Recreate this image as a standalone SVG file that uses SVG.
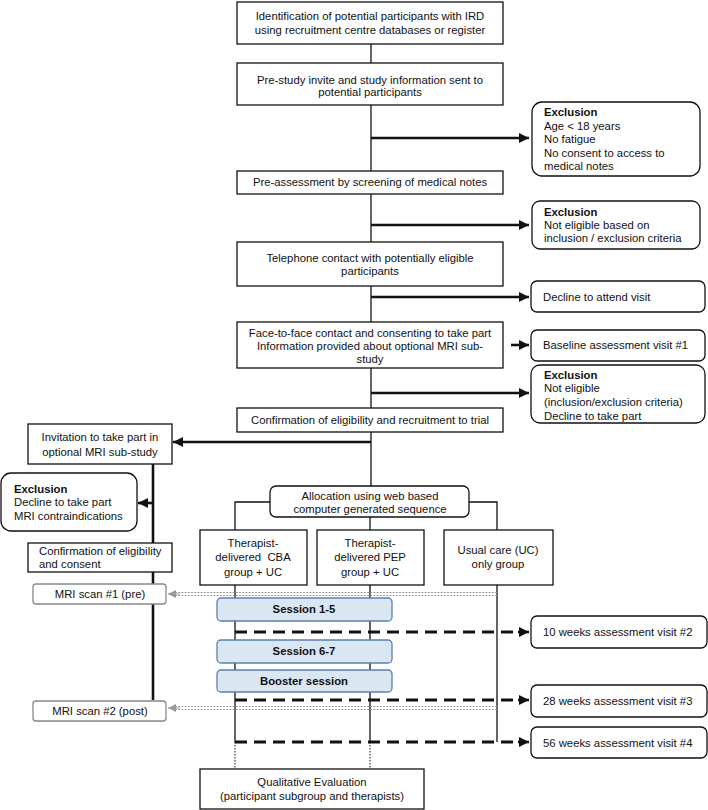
<svg xmlns="http://www.w3.org/2000/svg" width="708" height="810" viewBox="0 0 708 810">
<style>
text{font-family:"Liberation Sans",Arial,sans-serif;font-size:11.3px;fill:#111}
.c{text-anchor:middle}
.b{font-weight:bold}
.box{fill:#fff;stroke:#111;stroke-width:1.3}
.rbox{fill:#fff;stroke:#111;stroke-width:1.3}
.gbox{fill:#fff;stroke:#888;stroke-width:1.3}
.sbox{fill:#dbe6f3;stroke:#5b80b0;stroke-width:1.3}
.thin{stroke:#111;stroke-width:1.3;fill:none}
.thick{stroke:#111;stroke-width:2.6;fill:none}
.dash{stroke:#111;stroke-width:3;stroke-dasharray:12 7;fill:none}
.dot{stroke:#111;stroke-width:1;stroke-dasharray:1.5 1.5;fill:none}
.gdot{stroke:#999;stroke-width:1.2;stroke-dasharray:2 1.2;fill:none}
</style>
<defs>
<marker id="ah" viewBox="0 0 10 10" refX="10" refY="5" markerWidth="4" markerHeight="4" orient="auto" markerUnits="strokeWidth"><path d="M0,0 L10,5 L0,10 z" fill="#111"/></marker>
<marker id="ahg" viewBox="0 0 10 10" refX="10" refY="5" markerWidth="8" markerHeight="8" orient="auto" markerUnits="userSpaceOnUse"><path d="M0,0 L10,5 L0,10 z" fill="#999"/></marker>
</defs>
<g id="connectors">
<line class="thin" x1="371" y1="44" x2="371" y2="486"/>
<line class="thick" x1="371" y1="138" x2="529" y2="138" marker-end="url(#ah)"/>
<line class="thick" x1="371" y1="225" x2="529" y2="225" marker-end="url(#ah)"/>
<line class="thick" x1="371" y1="297" x2="529" y2="297" marker-end="url(#ah)"/>
<line class="thick" x1="511" y1="345" x2="529" y2="345" marker-end="url(#ah)"/>
<line class="thick" x1="371" y1="393" x2="529" y2="393" marker-end="url(#ah)"/>
<line class="thick" x1="371" y1="442" x2="173" y2="442" marker-end="url(#ah)"/>
<line class="thick" x1="153" y1="464" x2="153" y2="700"/>
<line class="thick" x1="153" y1="503" x2="138" y2="503" marker-end="url(#ah)"/>
<polyline class="thin" points="270,502 235,502 235,530"/>
<polyline class="thin" points="469,502 497,502 497,530"/>
<line class="thin" x1="370" y1="517" x2="370" y2="530"/>
<line class="thin" x1="235" y1="585" x2="235" y2="742"/>
<line class="thin" x1="370" y1="585" x2="370" y2="742"/>
<line class="thin" x1="497" y1="585" x2="497" y2="742"/>
<line class="dot" x1="235" y1="742" x2="235" y2="769"/>
<line class="dot" x1="370" y1="742" x2="370" y2="769"/>
<line class="gdot" x1="497" y1="592.5" x2="172" y2="592.5"/>
<line class="gdot" x1="497" y1="595.5" x2="172" y2="595.5"/>
<line x1="180" y1="594" x2="168" y2="594" stroke="#999" stroke-width="1" marker-end="url(#ahg)"/>
<line class="gdot" x1="497" y1="706.5" x2="172" y2="706.5"/>
<line class="gdot" x1="497" y1="709.5" x2="172" y2="709.5"/>
<line x1="180" y1="708" x2="168" y2="708" stroke="#999" stroke-width="1" marker-end="url(#ahg)"/>
<line class="dash" x1="235" y1="632" x2="523" y2="632"/>
<line class="thick" x1="518" y1="632" x2="529" y2="632" marker-end="url(#ah)"/>
<line class="dash" x1="235" y1="700" x2="523" y2="700"/>
<line class="thick" x1="518" y1="700" x2="529" y2="700" marker-end="url(#ah)"/>
<line class="dash" x1="235" y1="742" x2="523" y2="742"/>
<line class="thick" x1="518" y1="742" x2="529" y2="742" marker-end="url(#ah)"/>
</g>
<g id="n1"><rect class="box" x="237" y="2" width="266" height="42"/><text class="c" x="370" y="20">Identification of potential participants with IRD</text><text class="c" x="370" y="34">using recruitment centre databases or register</text></g>
<g id="n2"><rect class="box" x="237" y="63" width="266" height="42"/><text class="c" x="370" y="84">Pre-study invite and study information sent to</text><text class="c" x="370" y="96">potential participants</text></g>
<g id="ex1"><rect class="rbox" x="532" y="102" width="168" height="74" rx="10"/><text class="b" x="544" y="116">Exclusion</text><text x="544" y="130">Age &lt; 18 years</text><text x="544" y="143">No fatigue</text><text x="544" y="157">No consent to access to</text><text x="544" y="170">medical notes</text></g>
<g id="n3"><rect class="box" x="237" y="171" width="266" height="23"/><text class="c" x="370" y="186">Pre-assessment by screening of medical notes</text></g>
<g id="ex2"><rect class="rbox" x="532" y="201" width="168" height="48" rx="8"/><text class="b" x="544" y="216">Exclusion</text><text x="544" y="229">Not eligible based on</text><text x="544" y="242">inclusion / exclusion criteria</text></g>
<g id="n4"><rect class="box" x="237" y="242" width="266" height="44"/><text class="c" x="370" y="262">Telephone contact with potentially eligible</text><text class="c" x="370" y="275">participants</text></g>
<g id="ex3"><rect class="rbox" x="531" y="281" width="174" height="31" rx="6"/><text x="543" y="301">Decline to attend visit</text></g>
<g id="n5"><rect class="box" x="237" y="322" width="266" height="46"/><text class="c" x="370" y="337">Face-to-face contact and consenting to take part</text><text class="c" x="370" y="350">Information provided about optional MRI sub-</text><text class="c" x="370" y="363">study</text></g>
<g id="v1"><rect class="rbox" x="531" y="330" width="174" height="31" rx="6"/><text x="543" y="349">Baseline assessment visit #1</text></g>
<g id="ex4"><rect class="rbox" x="531" y="365" width="174" height="58" rx="9"/><text class="b" x="544" y="379">Exclusion</text><text x="544" y="392">Not eligible</text><text x="544" y="406">(inclusion/exclusion criteria)</text><text x="544" y="420">Decline to take part</text></g>
<g id="n6"><rect class="box" x="237" y="408" width="266" height="24"/><text class="c" x="370" y="424">Confirmation of eligibility and recruitment to trial</text></g>
<g id="mri1"><rect class="box" x="28" y="424" width="144" height="40"/><text class="c" x="100" y="441">Invitation to take part in</text><text class="c" x="100" y="456">optional MRI sub-study</text></g>
<g id="ex5"><rect class="rbox" x="1" y="473" width="136" height="58" rx="10"/><text class="b" x="14" y="493">Exclusion</text><text x="14" y="506">Decline to take part</text><text x="14" y="520">MRI contraindications</text></g>
<g id="mri2"><rect class="box" x="28" y="543" width="144" height="29"/><text x="39" y="555">Confirmation of eligibility</text><text x="39" y="568">and consent</text></g>
<g id="mri3"><rect class="gbox" x="33" y="584" width="133" height="20" rx="3"/><text class="c" x="100" y="598">MRI scan #1 (pre)</text></g>
<g id="mri4"><rect class="gbox" x="33" y="701" width="133" height="20" rx="3"/><text class="c" x="100" y="715">MRI scan #2 (post)</text></g>
<g id="alloc"><rect class="rbox" x="270" y="486" width="199" height="31" rx="6"/><text class="c" x="370" y="500">Allocation using web based</text><text class="c" x="370" y="513">computer generated sequence</text></g>
<g id="cba"><rect class="box" x="200" y="530" width="107" height="55"/><text class="c" x="253" y="547">Therapist-</text><text class="c" x="253" y="561">delivered&#160; CBA</text><text class="c" x="253" y="576">group + UC</text></g>
<g id="pep"><rect class="box" x="317" y="530" width="107" height="55"/><text class="c" x="370" y="547">Therapist-</text><text class="c" x="370" y="561">delivered PEP</text><text class="c" x="370" y="576">group + UC</text></g>
<g id="uc"><rect class="box" x="444" y="530" width="109" height="55"/><text class="c" x="498" y="554">Usual care (UC)</text><text class="c" x="498" y="568">only group</text></g>
<g id="s1"><rect class="sbox" x="217" y="598" width="175" height="23" rx="4"/><text class="c b" x="304" y="613">Session 1-5</text></g>
<g id="s2"><rect class="sbox" x="217" y="640" width="175" height="23" rx="4"/><text class="c b" x="304" y="655">Session 6-7</text></g>
<g id="s3"><rect class="sbox" x="217" y="670" width="175" height="22" rx="4"/><text class="c b" x="304" y="685">Booster session</text></g>
<g id="v2"><rect class="rbox" x="531" y="616" width="176" height="32" rx="6"/><text x="543" y="636">10 weeks assessment visit #2</text></g>
<g id="v3"><rect class="rbox" x="531" y="685" width="176" height="32" rx="6"/><text x="543" y="705">28 weeks assessment visit #3</text></g>
<g id="v4"><rect class="rbox" x="531" y="727" width="176" height="31" rx="6"/><text x="543" y="747">56 weeks assessment visit #4</text></g>
<g id="qual"><rect class="box" x="200" y="769" width="224" height="40"/><text class="c" x="312" y="786">Qualitative Evaluation</text><text class="c" x="312" y="800">(participant subgroup and therapists)</text></g>
</svg>
